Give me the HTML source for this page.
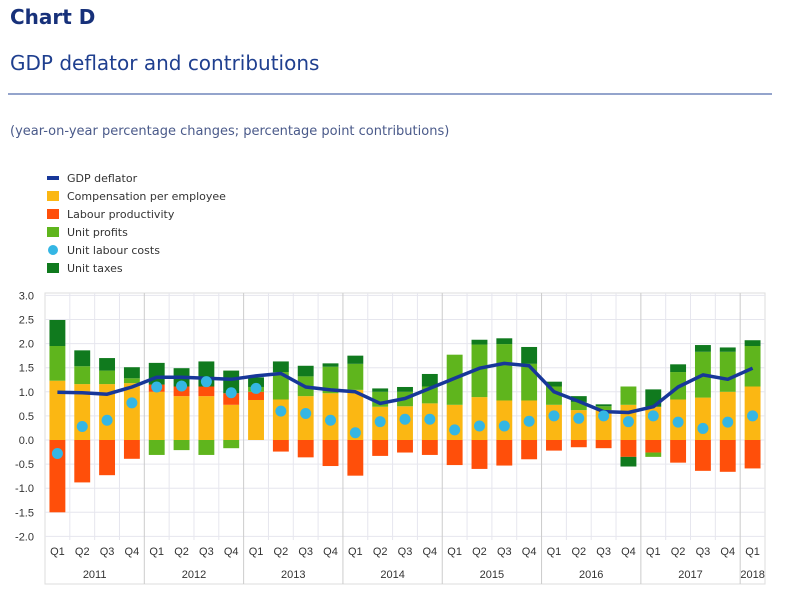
<!DOCTYPE html>
<html><head><meta charset="utf-8"><style>
body{margin:0;background:#fff;width:802px;height:592px;overflow:hidden;font-family:"DejaVu Sans",sans-serif;}
</style></head><body>
<svg id="c" width="802" height="592" xmlns="http://www.w3.org/2000/svg">
<text x="10" y="24" font-size="20" font-weight="bold" fill="#17317a">Chart D</text>
<text x="10" y="70" font-size="20" fill="#1f3f8f">GDP deflator and contributions</text>
<line x1="8" y1="94" x2="772" y2="94" stroke="#2a4a9a" stroke-width="1"/>
<text x="10" y="135" font-size="13" fill="#4a5a8a">(year-on-year percentage changes; percentage point contributions)</text>
<g id="legend" font-size="11" fill="#333"></g>
<g id="grid"></g><g id="bars"></g><g id="line"></g><g id="dots"></g><g id="axes" font-size="11" fill="#333" font-family="Liberation Sans, sans-serif"></g>
</svg>
<script>
const years=["2011","2012","2013","2014","2015","2016","2017","2018"];
const quarters=["Q1","Q2","Q3","Q4"];
const comp=[1.23,1.16,1.16,1.18,1.0,0.91,0.91,0.73,0.83,0.84,0.91,0.97,1.04,0.69,0.7,0.76,0.73,0.89,0.82,0.82,0.73,0.62,0.62,0.73,0.69,0.84,0.88,1.0,1.11];
const labour=[-1.5,-0.88,-0.73,-0.39,0.15,0.2,0.2,0.24,0.17,-0.24,-0.36,-0.54,-0.74,-0.33,-0.26,-0.31,-0.52,-0.6,-0.53,-0.4,-0.22,-0.15,-0.17,-0.35,-0.26,-0.47,-0.64,-0.66,-0.59];
const profits=[0.72,0.37,0.28,0.1,-0.31,-0.21,-0.31,-0.17,0.1,0.57,0.41,0.55,0.54,0.31,0.3,0.35,1.04,1.09,1.17,0.76,0.38,0.17,0.08,0.38,-0.09,0.57,0.95,0.83,0.84];
const taxes=[0.54,0.33,0.26,0.23,0.45,0.38,0.52,0.47,0.2,0.22,0.22,0.07,0.17,0.07,0.1,0.26,0,0.1,0.12,0.35,0.1,0.12,0.04,-0.2,0.36,0.16,0.14,0.09,0.12];
const ulc=[-0.28,0.28,0.41,0.77,1.1,1.12,1.21,0.98,1.07,0.6,0.55,0.41,0.15,0.38,0.43,0.43,0.21,0.29,0.29,0.39,0.5,0.45,0.5,0.38,0.5,0.37,0.24,0.37,0.5];
const deflator=[0.99,0.98,0.95,1.1,1.3,1.3,1.28,1.26,1.33,1.38,1.1,1.04,1.0,0.76,0.86,1.07,1.28,1.49,1.59,1.54,1.0,0.8,0.59,0.57,0.69,1.1,1.35,1.26,1.49];
const yTicks=[3.0,2.5,2.0,1.5,1.0,0.5,0.0,-0.5,-1.0,-1.5,-2.0];
const NS="http://www.w3.org/2000/svg";
const L=45,R=765,T=293,B=584;
const n=comp.length, step=(R-L)/n;
const y=v=>440-v*48.2;
const x=i=>L+step*(i+0.5);
function mk(t,a,p){const e=document.createElementNS(NS,t);for(const k in a)e.setAttribute(k,a[k]);document.getElementById(p).appendChild(e);return e;}
let fr=mk('rect',{x:L,y:T,width:R-L,height:B-T,fill:'none',stroke:'#ddd'},'grid');


yTicks.forEach(v=>{
 let g=mk('line',{x1:L,x2:R,y1:y(v),y2:y(v),stroke:'#e6e6ee'},'grid');
 
 
 let t=mk('text',{x:34,y:y(v)+4,'text-anchor':'end'},'axes');t.textContent=v.toFixed(1);
 
 
});
for(let i=1;i<n;i++){
 let g=mk('line',{x1:L+step*i,x2:L+step*i,y1:T,y2:i%4==0?B:540,stroke:i%4==0?'#ccc':'#e6e6ee'},'grid');
 
 
}
for(let i=0;i<n;i++){
 let t=mk('text',{x:x(i),y:555,'text-anchor':'middle'},'axes');t.textContent=quarters[i%4];
 
 
}
years.forEach((yr,k)=>{
 const i0=k*4, i1=Math.min(k*4+3,n-1);
 let t=mk('text',{x:(x(i0)+x(i1))/2,y:578,'text-anchor':'middle'},'axes');t.textContent=yr;
 
 
});
const series=[[comp,'#fbb713','comp'],[labour,'#ff4f0a','labour'],[profits,'#5fb51d','profits'],[taxes,'#107a1e','taxes']];
const bw=step*0.64;
for(let i=0;i<n;i++){
 let pos=0,neg=0;
 series.forEach(([arr,col,nm])=>{
  const v=arr[i]; if(!v)return;
  let a,b;
  if(v>0){a=pos;b=pos+v;pos=b;}else{a=neg;b=neg+v;neg=b;}
  const r=mk('rect',{x:x(i)-bw/2,y:Math.min(y(a),y(b)),width:bw,height:Math.abs(y(b)-y(a)),fill:col},'bars');
  
  
 });
}
let d=deflator.map((v,i)=>(i?'L':'M')+x(i).toFixed(1)+' '+y(v).toFixed(1)).join(' ');
let pl=mk('path',{d:d,fill:'none',stroke:'#173799','stroke-width':3.5,'stroke-linejoin':'round'},'line');


ulc.forEach((v,i)=>{
 let c=mk('circle',{cx:x(i),cy:y(v),r:5.5,fill:'#34b6e4'},'dots');
 
 
});
const legNames=["GDP deflator","Compensation per employee","Labour productivity","Unit profits","Unit labour costs","Unit taxes"];
const legTypes=["line","rect","rect","rect","dot","rect"];
const legCols=["#173799","#fbb713","#ff4f0a","#5fb51d","#34b6e4","#107a1e"];
legNames.forEach((nm,k)=>{
 const yy=178+k*18;
 let s;
 if(legTypes[k]=="line") s=mk('rect',{x:47,y:yy-2,width:12,height:4,fill:legCols[k]},'legend');
 else if(legTypes[k]=="dot") s=mk('circle',{cx:53,cy:yy,r:5,fill:legCols[k]},'legend');
 else s=mk('rect',{x:47,y:yy-5,width:12,height:10,fill:legCols[k]},'legend');
 
 
 let t=mk('text',{x:67,y:yy+4},'legend');t.textContent=nm;
 
 
});
</script>
</body></html>
